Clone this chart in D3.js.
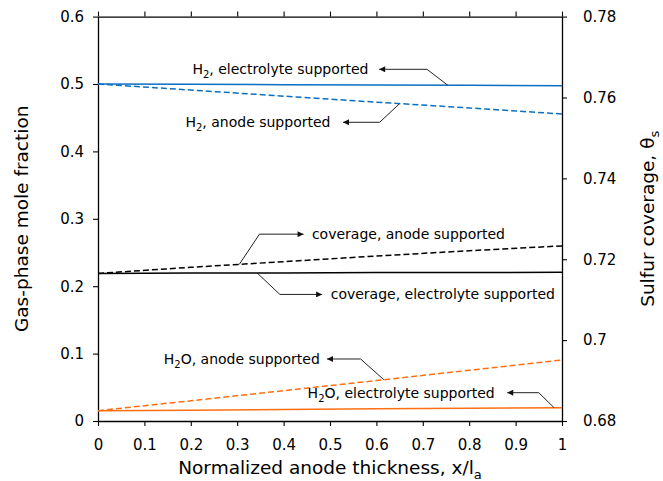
<!DOCTYPE html>
<html>
<head>
<meta charset="utf-8">
<script src="https://cdn.jsdelivr.net/npm/d3@7"></script>
<style>
  html, body { margin: 0; padding: 0; background: #fff; }
  svg { display: block; }
  text { font-family: "DejaVu Sans", sans-serif; fill: #000; }
</style>
</head>
<body>
<svg id="chart" width="663" height="481"></svg>
<script>
// Positions along the anode, normalized by its thickness
const xPos = [0, 0.2, 0.4, 0.6, 0.8, 1];

// Gas-phase mole fractions (left axis)
const h2Electrolyte  = [0.5000, 0.4995, 0.4990, 0.4985, 0.4980, 0.4975];
const h2Anode        = [0.5000, 0.4910, 0.4820, 0.4730, 0.4645, 0.4555];
const h2oAnode       = [0.0153, 0.0300, 0.0450, 0.0600, 0.0752, 0.0905];
const h2oElectrolyte = [0.0153, 0.0160, 0.0170, 0.0180, 0.0190, 0.0197];

// Sulfur coverage (right axis)
const covAnode       = [0.7165, 0.7180, 0.7194, 0.7208, 0.7221, 0.7233];
const covElectrolyte = [0.7165, 0.7166, 0.7166, 0.7167, 0.7167, 0.7168];

// Tick values
const xTicks = [0, 0.1, 0.2, 0.3, 0.4, 0.5, 0.6, 0.7, 0.8, 0.9, 1];
const leftTicks = [0, 0.1, 0.2, 0.3, 0.4, 0.5, 0.6];
const rightTicks = [0.68, 0.70, 0.72, 0.74, 0.76, 0.78];

const svg = d3.select("#chart");
const W = 663, H = 481;
const margin = { top: 16.6, right: 101, bottom: 60, left: 98 };

const x = d3.scaleLinear().domain([0, 1]).range([margin.left, W - margin.right]);
const yL = d3.scaleLinear().domain([0, 0.6]).range([H - margin.bottom, margin.top]);
const yR = d3.scaleLinear().domain([0.68, 0.78]).range([H - margin.bottom, margin.top]);

const fmt = d => String(+d.toFixed(2));

const blue = "#0b6fc4", orange = "#ff6f12", black = "#000";

// Axes
function styleAxis(g) {
  g.selectAll("path.domain").attr("stroke", "#000").attr("stroke-width", 1.3);
  g.selectAll(".tick line").attr("stroke", "#000").attr("stroke-width", 1.1);
  g.selectAll(".tick text").style("font-size", "15px").attr("font-family", "DejaVu Sans");
}

svg.append("g")
  .attr("transform", `translate(0,${H - margin.bottom})`)
  .call(d3.axisBottom(x).tickValues(xTicks).tickFormat(fmt).tickSize(5).tickSizeOuter(0).tickPadding(13))
  .call(styleAxis);

svg.append("g")
  .attr("transform", `translate(0,${margin.top})`)
  .call(d3.axisTop(x).tickValues(xTicks).tickFormat("").tickSize(5).tickSizeOuter(0))
  .call(styleAxis);

svg.append("g")
  .attr("transform", `translate(${margin.left},0)`)
  .call(d3.axisLeft(yL).tickValues(leftTicks).tickFormat(fmt).tickSize(5).tickSizeOuter(0).tickPadding(9))
  .call(styleAxis);

svg.append("g")
  .attr("transform", `translate(${W - margin.right},0)`)
  .call(d3.axisRight(yR).tickValues(rightTicks).tickFormat(fmt).tickSize(5).tickSizeOuter(0).tickPadding(16))
  .call(styleAxis);

// Series
const series = [
  { vals: h2Electrolyte,  y: yL, color: blue,   dash: null },
  { vals: h2Anode,        y: yL, color: blue,   dash: "6,3" },
  { vals: h2oElectrolyte, y: yL, color: orange, dash: null },
  { vals: h2oAnode,       y: yL, color: orange, dash: "6,3" },
  { vals: covElectrolyte, y: yR, color: black,  dash: null },
  { vals: covAnode,       y: yR, color: black,  dash: "6,3" }
];

series.forEach(s => {
  const line = d3.line().x((d, i) => x(xPos[i])).y(d => s.y(d));
  svg.append("path")
    .datum(s.vals)
    .attr("fill", "none")
    .attr("stroke", s.color)
    .attr("stroke-width", 1.5)
    .attr("stroke-dasharray", s.dash)
    .attr("d", line);
});

// Arrowhead
svg.append("defs").append("marker")
  .attr("id", "head")
  .attr("viewBox", "0 0 10 10")
  .attr("refX", 10).attr("refY", 5)
  .attr("markerWidth", 8).attr("markerHeight", 6)
  .attr("markerUnits", "userSpaceOnUse")
  .attr("orient", "auto")
  .append("path")
  .attr("d", "M0,0 L10,5 L0,10 Z")
  .attr("fill", "#111");

// Value of a series at a position, read along its polyline
function along(vals, t) {
  return d3.scaleLinear().domain(xPos).range(vals)(t);
}

// Annotations: label, the curve point, the elbow and the arrow tip
const notes = [
  { parts: [["H", 0], ["2", 1], [", electrolyte supported", 0]], vals: h2Electrolyte, y: yL,
    at: 0.754, elbow: [0.709, 0.5218], tip: 0.606, textX: 0.583, side: "end" },
  { parts: [["H", 0], ["2", 1], [", anode supported", 0]], vals: h2Anode, y: yL,
    at: 0.65, elbow: [0.607, 0.4432], tip: 0.528, textX: 0.501, side: "end" },
  { parts: [["coverage, anode supported", 0]], vals: covAnode, y: yR,
    at: 0.3045, elbow: [0.348, 0.7262], tip: 0.443, textX: 0.461, side: "start" },
  { parts: [["coverage, electrolyte supported", 0]], vals: covElectrolyte, y: yR,
    at: 0.343, elbow: [0.392, 0.7113], tip: 0.483, textX: 0.5015, side: "start" },
  { parts: [["H", 0], ["2", 1], ["O, anode supported", 0]], vals: h2oAnode, y: yL,
    at: 0.616, elbow: [0.566, 0.0920], tip: 0.4935, textX: 0.478, side: "end" },
  { parts: [["H", 0], ["2", 1], ["O, electrolyte supported", 0]], vals: h2oElectrolyte, y: yL,
    at: 0.983, elbow: [0.950, 0.0420], tip: 0.882, textX: 0.855, side: "end" }
];

notes.forEach(n => {
  const px = x(n.at), py = n.y(along(n.vals, n.at));
  const ex = x(n.elbow[0]), ey = n.y(n.elbow[1]);
  const tx = x(n.tip);
  svg.append("path")
    .attr("d", `M${px},${py} L${ex},${ey} L${tx},${ey}`)
    .attr("fill", "none")
    .attr("stroke", "#222")
    .attr("stroke-width", 1)
    .attr("marker-end", "url(#head)");
  const t = svg.append("text")
    .attr("x", x(n.textX))
    .attr("y", ey + 5)
    .attr("text-anchor", n.side)
    .style("font-size", "14px");
  n.parts.forEach(([s, sub]) => {
    const sp = t.append("tspan").text(s);
    if (sub) sp.style("font-size", "10px").attr("dy", 4);
    else if (t.selectAll("tspan").size() > 1) sp.attr("dy", -4);
  });
});

// Axis titles
const xl = svg.append("text")
  .attr("x", (x(0) + x(1)) / 2)
  .attr("y", 474)
  .attr("text-anchor", "middle")
  .style("font-size", "18.5px");
xl.append("tspan").text("Normalized anode thickness, x/l");
xl.append("tspan").text("a").style("font-size", "13px").attr("dy", 5);

const yMid = (margin.top + H - margin.bottom) / 2;
svg.append("text")
  .attr("transform", `translate(28,${yMid}) rotate(-90)`)
  .attr("text-anchor", "middle")
  .style("font-size", "18.5px")
  .text("Gas-phase mole fraction");

const yr = svg.append("text")
  .attr("transform", `translate(654,${yMid}) rotate(-90)`)
  .attr("text-anchor", "middle")
  .style("font-size", "18.5px");
yr.append("tspan").text("Sulfur coverage, θ");
yr.append("tspan").text("s").style("font-size", "13px").attr("dy", 5);
</script>
</body>
</html>
